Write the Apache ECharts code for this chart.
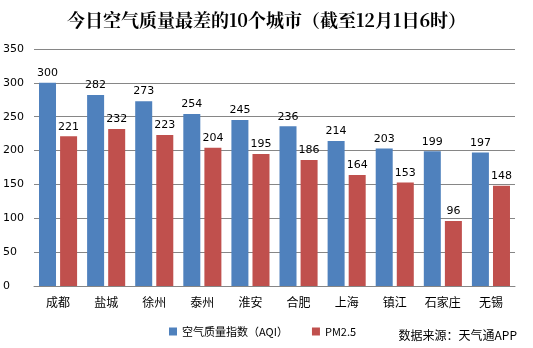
<!DOCTYPE html>
<html><head><meta charset="utf-8">
<script src="https://cdn.jsdelivr.net/npm/echarts@6/dist/echarts.min.js"></script>
<style>html,body{margin:0;padding:0;background:#fff}#c{width:533px;height:348px}</style>
</head><body><div id="c"></div>
<script>
const categories = ['成都','盐城','徐州','泰州','淮安','合肥','上海','镇江','石家庄','无锡'];
const aqi = [300,282,273,254,245,236,214,203,199,197];
const pm25 = [221,232,223,204,195,186,164,153,96,148];
const seriesNames = ['空气质量指数（AQI）','PM2.5'];
const font = '"Noto Sans CJK SC", sans-serif';
const chart = echarts.init(document.getElementById('c'));
const lbl = {show:true, position:'top', color:'#000', fontSize:11, fontFamily:'DejaVu Sans', distance:4};
chart.setOption({
  animation:false,
  title:{text:'今日空气质量最差的10个城市（截至12月1日6时）', left:'center', top:6,
    textStyle:{fontFamily:'"Noto Serif CJK SC","Noto Sans CJK SC",serif', fontWeight:'bold', fontSize:18, color:'#000'}},
  legend:{bottom:6, left:164, itemWidth:8, itemHeight:8, itemGap:24, icon:'rect',
    textStyle:{fontFamily:font, fontSize:11, color:'#000'}},
  graphic:[{type:'text', right:16, bottom:7, style:{text:'数据来源：天气通APP', font:'12px "Noto Sans CJK SC"', fill:'#000'}}],
  grid:{left:33, right:18, top:49, bottom:62},
  xAxis:{type:'category', data:categories, axisTick:{show:false},
    axisLine:{lineStyle:{color:'#868686'}},
    axisLabel:{color:'#000', fontFamily:font, fontSize:12, margin:10}},
  yAxis:{type:'value', min:0, max:350, interval:50,
    axisLabel:{color:'#000', fontFamily:'DejaVu Sans', fontSize:11, margin:31, align:'left'},
    splitLine:{lineStyle:{color:'#868686'}}},
  series:[
    {name:seriesNames[0], type:'bar', data:aqi, barWidth:17, barGap:'24%',
      itemStyle:{color:'#4F81BD'}, label:lbl},
    {name:seriesNames[1], type:'bar', data:pm25, barWidth:17,
      itemStyle:{color:'#C0504D'}, label:lbl}
  ]
});
</script></body></html>
